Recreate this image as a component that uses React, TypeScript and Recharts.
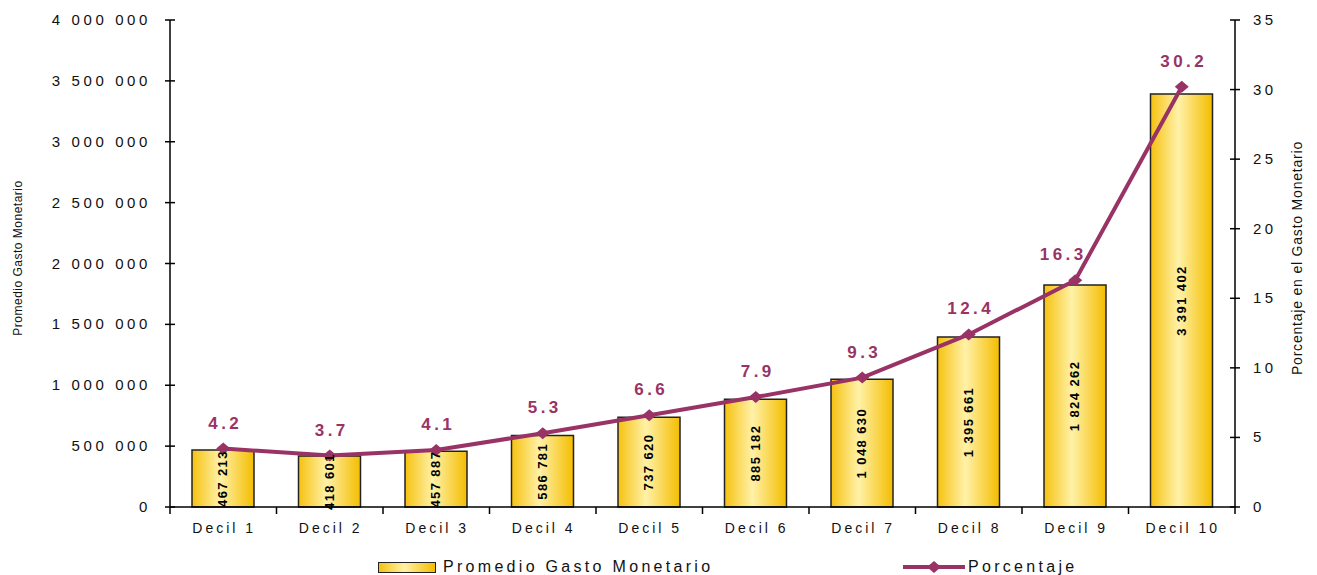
import { ComposedChart, Bar, Line, XAxis, YAxis, LabelList } from "recharts";

const deciles = [
  "Decil 1",
  "Decil 2",
  "Decil 3",
  "Decil 4",
  "Decil 5",
  "Decil 6",
  "Decil 7",
  "Decil 8",
  "Decil 9",
  "Decil 10",
];
const gastoPromedio = [
  467213, 418601, 457887, 586781, 737620, 885182, 1048630, 1395661, 1824262, 3391402,
];
const porcentaje = [4.2, 3.7, 4.1, 5.3, 6.6, 7.9, 9.3, 12.4, 16.3, 30.2];
const gastoTicks = [0, 500000, 1000000, 1500000, 2000000, 2500000, 3000000, 3500000, 4000000];
const pctTicks = [0, 5, 10, 15, 20, 25, 30, 35];

const data = deciles.map((decil, i) => ({
  decil,
  gasto: gastoPromedio[i],
  pct: porcentaje[i],
}));

const WIDTH = 1317;
const HEIGHT = 575;
const LEFT_W = 170;
const RIGHT_W = 82;
const BAND = (WIDTH - LEFT_W - RIGHT_W) / deciles.length;
const FONT = "'Liberation Sans', Arial, sans-serif";
const LINE_COLOR = "#993366";

const fmt = (n: number) => n.toString().replace(/\B(?=(\d{3})+(?!\d))/g, " ");

const XTick = (props: any) => {
  const { x, y, payload, index } = props;
  return (
    <g>
      <line x1={x - BAND / 2} x2={x - BAND / 2} y1={y} y2={y + 7} stroke="#000" strokeWidth={1.5} />
      {index === deciles.length - 1 && (
        <line x1={x + BAND / 2} x2={x + BAND / 2} y1={y} y2={y + 7} stroke="#000" strokeWidth={1.5} />
      )}
      <text
        x={x + 1}
        y={y + 26}
        textAnchor="middle"
        fontSize={14}
        letterSpacing={3}
        fontFamily={FONT}
        fill="#111"
      >
        {payload.value}
      </text>
    </g>
  );
};

const LeftTick = (props: any) => {
  const { x, y, payload } = props;
  return (
    <g>
      <line x1={x - 5} x2={x + 5} y1={y} y2={y} stroke="#000" strokeWidth={1.5} />
      <text
        x={x - 19}
        y={y + 5}
        textAnchor="end"
        fontSize={15}
        letterSpacing={3.6}
        fontFamily={FONT}
        fill="#111"
      >
        {fmt(payload.value)}
      </text>
    </g>
  );
};

const RightTick = (props: any) => {
  const { x, y, payload } = props;
  return (
    <g>
      <line x1={x - 5} x2={x + 5} y1={y} y2={y} stroke="#000" strokeWidth={1.5} />
      <text
        x={x + 18}
        y={y + 5}
        textAnchor="start"
        fontSize={15}
        letterSpacing={3.4}
        fontFamily={FONT}
        fill="#111"
      >
        {payload.value}
      </text>
    </g>
  );
};

const Diamond = (props: any) => {
  const { cx, cy } = props;
  if (cx == null || cy == null) return null;
  return (
    <polygon
      points={`${cx - 7},${cy} ${cx},${cy - 6} ${cx + 7},${cy} ${cx},${cy + 6}`}
      fill={LINE_COLOR}
    />
  );
};

const BarValue = (props: any) => {
  const { x, y, width, height, value } = props;
  const cx = x + width / 2;
  const cy = y + height / 2;
  return (
    <text
      x={cx}
      y={cy}
      transform={`rotate(-90, ${cx}, ${cy})`}
      textAnchor="middle"
      dominantBaseline="central"
      fontSize={13}
      fontWeight="bold"
      letterSpacing={1.4}
      fontFamily={FONT}
      fill="#000"
    >
      {fmt(value)}
    </text>
  );
};

const PctValue = (props: any) => {
  const { x, y, value, index } = props;
  // nudge the label left when the line climbs steeply right after this point
  const next = porcentaje[index + 1];
  const dx = next != null && next - value > 10 ? -12 : 2;
  return (
    <text
      x={x + dx}
      y={y - 20}
      textAnchor="middle"
      fontSize={17}
      fontWeight="bold"
      letterSpacing={3.5}
      fontFamily={FONT}
      fill={LINE_COLOR}
    >
      {value.toFixed(1)}
    </text>
  );
};

const App = () => {
  return (
    <div
      style={{
        position: "absolute",
        left: 0,
        top: 0,
        width: WIDTH,
        height: HEIGHT,
        background: "#fff",
        fontFamily: FONT,
      }}
    >
      <ComposedChart
        width={WIDTH}
        height={HEIGHT}
        data={data}
        margin={{ top: 20, right: 0, left: 0, bottom: 38 }}
      >
        <defs>
          <linearGradient id="barGold" x1="0" y1="0" x2="1" y2="0">
            <stop offset="0%" stopColor="#f6c210" />
            <stop offset="45%" stopColor="#fff1a8" />
            <stop offset="100%" stopColor="#f4bd00" />
          </linearGradient>
        </defs>
        <XAxis
          dataKey="decil"
          height={30}
          interval={0}
          tickSize={0}
          tickMargin={0}
          tickLine={false}
          tick={<XTick />}
          axisLine={{ stroke: "#000", strokeWidth: 1.5 }}
        />
        <YAxis
          yAxisId="left"
          width={LEFT_W}
          domain={[0, 4000000]}
          ticks={gastoTicks}
          interval={0}
          tickSize={0}
          tickMargin={0}
          tickLine={false}
          tick={<LeftTick />}
          axisLine={{ stroke: "#000", strokeWidth: 1.5 }}
        />
        <YAxis
          yAxisId="right"
          orientation="right"
          width={RIGHT_W}
          domain={[0, 35]}
          ticks={pctTicks}
          interval={0}
          tickSize={0}
          tickMargin={0}
          tickLine={false}
          tick={<RightTick />}
          axisLine={{ stroke: "#000", strokeWidth: 1.5 }}
        />
        <Bar
          yAxisId="left"
          dataKey="gasto"
          barSize={62}
          fill="url(#barGold)"
          stroke="#222"
          strokeWidth={1.5}
          isAnimationActive={false}
        >
          <LabelList dataKey="gasto" content={<BarValue />} />
        </Bar>
        <Line
          yAxisId="right"
          dataKey="pct"
          stroke={LINE_COLOR}
          strokeWidth={4}
          dot={<Diamond />}
          activeDot={false}
          isAnimationActive={false}
        >
          <LabelList dataKey="pct" content={<PctValue />} />
        </Line>
      </ComposedChart>

      <div
        style={{
          position: "absolute",
          left: 18,
          top: 258,
          transform: "translate(-50%, -50%) rotate(-90deg)",
          fontSize: 12,
          letterSpacing: 0.5,
          whiteSpace: "nowrap",
          color: "#111",
        }}
      >
        Promedio Gasto Monetario
      </div>
      <div
        style={{
          position: "absolute",
          left: 1297,
          top: 258,
          transform: "translate(-50%, -50%) rotate(-90deg)",
          fontSize: 14,
          letterSpacing: 0.8,
          whiteSpace: "nowrap",
          color: "#111",
        }}
      >
        Porcentaje en el Gasto Monetario
      </div>

      <div
        style={{
          position: "absolute",
          left: 378,
          top: 558,
          height: 18,
          display: "flex",
          alignItems: "center",
          fontSize: 16,
          letterSpacing: 3.3,
          color: "#111",
          whiteSpace: "nowrap",
        }}
      >
        <span
          style={{
            display: "inline-block",
            width: 56,
            height: 9,
            border: "1.5px solid #222",
            background: "linear-gradient(to right, #f6c210, #fff1a8 45%, #f4bd00)",
            marginRight: 7,
          }}
        />
        Promedio Gasto Monetario
      </div>
      <div
        style={{
          position: "absolute",
          left: 903,
          top: 558,
          height: 18,
          display: "flex",
          alignItems: "center",
          fontSize: 16,
          letterSpacing: 3.3,
          color: "#111",
          whiteSpace: "nowrap",
        }}
      >
        <svg width={64} height={18} style={{ marginRight: 1 }}>
          <line x1={0} x2={62} y1={9} y2={9} stroke={LINE_COLOR} strokeWidth={4} />
          <polygon points="24,9 31,3 38,9 31,15" fill={LINE_COLOR} />
        </svg>
        Porcentaje
      </div>
    </div>
  );
};

export default App;
